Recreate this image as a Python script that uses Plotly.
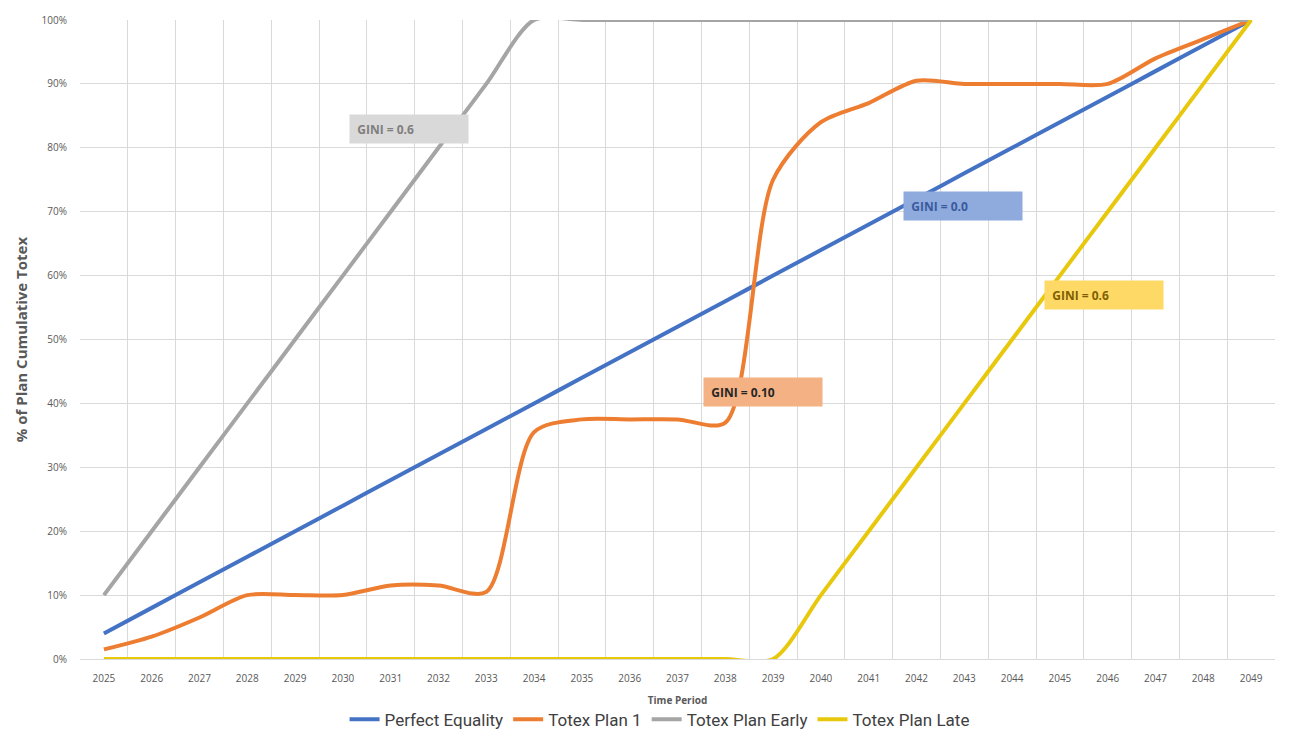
import plotly.graph_objects as go

years = [str(y) for y in range(2025, 2050)]

perfect_equality = [0.04, 0.08, 0.12, 0.16, 0.20, 0.24, 0.28, 0.32, 0.36, 0.40,
                    0.44, 0.48, 0.52, 0.56, 0.60, 0.64, 0.68, 0.72, 0.76, 0.80,
                    0.84, 0.88, 0.92, 0.96, 1.00]
totex_plan_1 = [0.015, 0.035, 0.065, 0.10, 0.10, 0.10, 0.115, 0.115, 0.105, 0.355,
                0.375, 0.375, 0.375, 0.37, 0.75, 0.84, 0.87, 0.905, 0.90, 0.90,
                0.90, 0.90, 0.94, 0.97, 1.00]
totex_plan_early = [0.10, 0.20, 0.30, 0.40, 0.50, 0.60, 0.70, 0.80, 0.90, 1.00,
                    1.00, 1.00, 1.00, 1.00, 1.00, 1.00, 1.00, 1.00, 1.00, 1.00,
                    1.00, 1.00, 1.00, 1.00, 1.00]
totex_plan_late = [0.0, 0.0, 0.0, 0.0, 0.0, 0.0, 0.0, 0.0, 0.0, 0.0,
                   0.0, 0.0, 0.0, 0.0, 0.0, 0.10, 0.20, 0.30, 0.40, 0.50,
                   0.60, 0.70, 0.80, 0.90, 1.00]

series_names = ["Perfect Equality", "Totex Plan 1", "Totex Plan Early", "Totex Plan Late"]
series_values = [perfect_equality, totex_plan_1, totex_plan_early, totex_plan_late]
colors = ["#4472C4", "#ED7D31", "#A5A5A5", "#E8C80C"]

y_ticks = [i / 10 for i in range(11)]
y_tick_labels = [f"{i*10}%" for i in range(11)]

# annotations: text, x (category index), y, fill, font color
labels = [
    ("GINI = 0.6", 6.38, 0.83, "#D9D9D9", "#7F7F7F"),
    ("GINI = 0.0", 17.97, 0.709, "#8FAADC", "#3A5A9E"),
    ("GINI = 0.10", 13.78, 0.418, "#F4B183", "#262626"),
    ("GINI = 0.6", 20.93, 0.57, "#FFD966", "#7F6000"),
]

font_family = "Open Sans, Lato, Liberation Sans, sans-serif"

fig = go.Figure()
for name, vals, col in zip(series_names, series_values, colors):
    fig.add_trace(go.Scatter(
        x=years, y=vals, name=name, mode="lines",
        line=dict(color=col, width=4, shape="spline", smoothing=0.8),
        cliponaxis=True,
    ))

for text, x, y, fill, fc in labels:
    fig.add_annotation(
        x=x, y=y, xref="x", yref="y", text=f"&nbsp;&nbsp;<b>{text}</b>", showarrow=False,
        bgcolor=fill, font=dict(size=12, color=fc, family=font_family),
        width=116, height=26, align="left", xanchor="center", yanchor="middle",
        borderpad=1,
    )

fig.update_layout(
    width=1297, height=745,
    margin=dict(l=80, r=22, t=20, b=86, autoexpand=False),
    paper_bgcolor="white", plot_bgcolor="white",
    font=dict(family=font_family, color="#595959"),
    showlegend=True,
    legend=dict(orientation="h", x=0.485, xanchor="center", y=-0.095, yanchor="middle",
                font=dict(size=17, color="#404040", family="Roboto, sans-serif"),
                traceorder="normal", itemwidth=30, tracegroupgap=0),
    xaxis=dict(
        type="category", range=[-0.5, 24.5], tickson="boundaries", showgrid=True,
        gridcolor="#D9D9D9", gridwidth=1, ticks="", showline=True, linecolor="#D9D9D9",
        tickfont=dict(size=10, color="#595959"), ticklabelstandoff=10,
        title=dict(text="<b>Time Period</b>", font=dict(size=10, color="#595959"), standoff=12),
    ),
    yaxis=dict(
        range=[0, 1], tickvals=y_ticks, ticktext=y_tick_labels, showgrid=True,
        gridcolor="#D9D9D9", gridwidth=1, zeroline=False, showline=False,
        tickfont=dict(size=10, color="#595959"), ticks="", ticklabelstandoff=12,
        title=dict(text="<b>% of Plan Cumulative Totex</b>", font=dict(size=15, color="#595959"), standoff=10),
    ),
)

fig.write_html("out.html")
